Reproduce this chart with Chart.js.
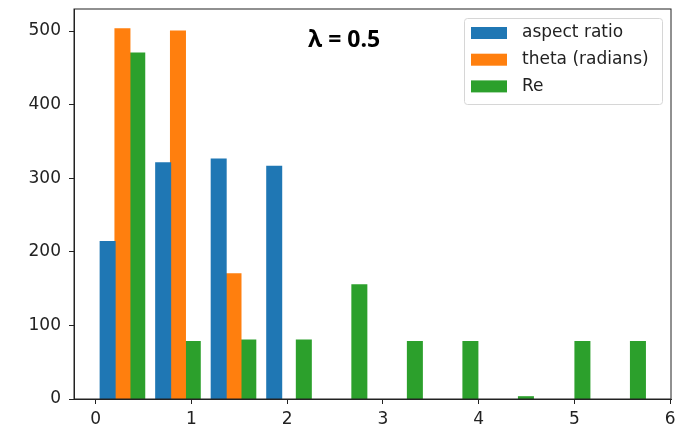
<!DOCTYPE html>
<html>
<head>
<meta charset="utf-8">
<script src="https://cdn.jsdelivr.net/npm/chart.js@4.4.1/dist/chart.umd.min.js"></script>
<style>
  body { margin: 0; background: #fff; }
  canvas { display: block; }
</style>
</head>
<body>
<canvas id="histChart" width="687" height="429"></canvas>
<script>
// bin centres of the 10 histogram bins
const binCenters = [0.28, 0.86, 1.44, 2.02, 2.60, 3.18, 3.76, 4.34, 4.93, 5.51];

// counts per bin
const aspectRatio = [214, 321, 326, 316, 0, 0, 0, 0, 0, 0];
const theta = [503, 500, 170, 0, 0, 0, 0, 0, 0, 0];
const reynolds = [470, 78, 80, 80, 155, 78, 78, 3, 78, 78];

const seriesLabels = ['aspect ratio', 'theta (radians)', 'Re'];
const seriesColors = ['#1f77b4', '#ff7f0e', '#2ca02c'];

const xTicks = [0, 1, 2, 3, 4, 5, 6];
const yTicks = [0, 100, 200, 300, 400, 500];
const annotation = 'λ = 0.5';

const tickFont = { family: 'DejaVu Sans', size: 17 };
const textColor = '#222';

// empty bins are left out so no sliver is drawn on the axis
const toPoints = (arr) => arr.map((v, i) => ({ x: binCenters[i], y: v === 0 ? null : v }));

// frame on all four sides, annotation text and the legend box inside the axes
const framePlugin = {
  id: 'framePlugin',
  afterDraw(chart) {
    const { ctx, chartArea } = chart;
    ctx.save();
    ctx.strokeStyle = '#222';
    ctx.lineWidth = 1;
    ctx.strokeRect(chartArea.left, chartArea.top, chartArea.right - chartArea.left, chartArea.bottom - chartArea.top);

    // annotation
    ctx.fillStyle = '#000';
    ctx.font = 'bold 23px "Open Sans"';
    ctx.textBaseline = 'middle';
    ctx.textAlign = 'left';
    ctx.fillText(annotation, chartArea.left + 234, chartArea.top + 31);

    // legend
    const boxW = 198, boxH = 86;
    const bx = chartArea.right - 9 - boxW;
    const by = chartArea.top + 9;
    ctx.fillStyle = 'rgba(255,255,255,0.8)';
    ctx.strokeStyle = '#d6d6d6';
    ctx.beginPath();
    ctx.roundRect(bx + 0.5, by + 0.5, boxW, boxH, 3);
    ctx.fill();
    ctx.stroke();

    ctx.font = '17px "DejaVu Sans"';
    chart.data.datasets.forEach((ds, i) => {
      const cy = by + 15 + i * 26.7;
      ctx.fillStyle = ds.backgroundColor;
      ctx.fillRect(bx + 7, cy - 6, 36, 12);
      ctx.fillStyle = textColor;
      ctx.fillText(ds.label, bx + 58, cy);
    });
    ctx.restore();
  }
};

const chart = new Chart(document.getElementById('histChart'), {
  type: 'bar',
  data: {
    datasets: [
      { label: seriesLabels[0], data: toPoints(aspectRatio), backgroundColor: seriesColors[0] },
      { label: seriesLabels[1], data: toPoints(theta), backgroundColor: seriesColors[1] },
      { label: seriesLabels[2], data: toPoints(reynolds), backgroundColor: seriesColors[2] }
    ]
  },
  options: {
    responsive: false,
    animation: false,
    layout: { padding: { top: 9, right: 16, bottom: 0, left: 0 } },
    datasets: {
      bar: { categoryPercentage: 0.8, barPercentage: 1.0, borderWidth: 0, inflateAmount: 0.6 }
    },
    plugins: {
      legend: { display: false },
      tooltip: { enabled: false }
    },
    scales: {
      x: {
        type: 'linear',
        offset: false,
        min: -0.226,
        max: 6.01,
        afterBuildTicks: (scale) => { scale.ticks = xTicks.map(v => ({ value: v })); },
        afterFit: (scale) => { scale.height = 30; },
        grid: { offset: false, drawOnChartArea: false, drawTicks: true, tickLength: 5, color: '#222' },
        border: { color: '#222' },
        ticks: { font: tickFont, color: textColor, padding: 5, maxRotation: 0 }
      },
      y: {
        min: 0,
        max: 530,
        afterBuildTicks: (scale) => { scale.ticks = yTicks.map(v => ({ value: v })); },
        afterFit: (scale) => { scale.width = 74; scale.paddingTop = 0; scale.paddingBottom = 0; },
        grid: { drawOnChartArea: false, drawTicks: true, tickLength: 5, color: '#222' },
        border: { color: '#222' },
        ticks: { font: tickFont, color: textColor, padding: 8 }
      }
    }
  },
  plugins: [framePlugin]
});
</script>
</body>
</html>
